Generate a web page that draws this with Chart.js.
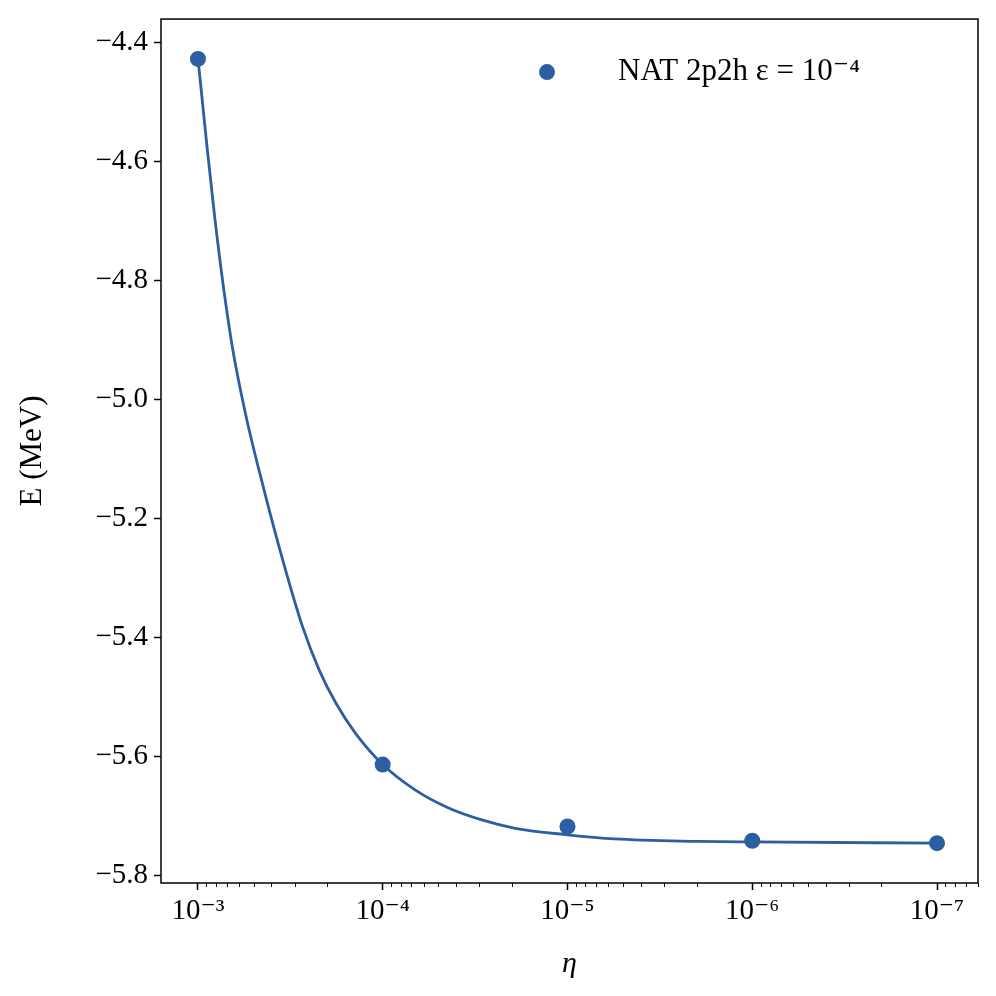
<!DOCTYPE html>
<html>
<head>
<meta charset="utf-8">
<script src="https://cdn.jsdelivr.net/npm/chart.js"></script>
<style>
  body { margin: 0; background: #fff; }
  #wrap { width: 996px; height: 996px; }
</style>
</head>
<body>
<div id="wrap"><canvas id="energyChart" width="996" height="996"></canvas></div>
<script>
// measured points
const etaPoints = [1e-3, 1e-4, 1e-5, 1e-6, 1e-7];
const energyPoints = [-4.427, -5.613, -5.717, -5.741, -5.745];

// fit curve
const etaCurve = [1.0e-3, 9.67e-4, 8.91e-4, 8.10e-4, 7.31e-4, 6.46e-4, 5.47e-4, 4.45e-4, 3.47e-4,
  2.71e-4, 2.20e-4, 1.79e-4, 1.40e-4, 1.0e-4, 6.65e-5, 4.40e-5, 2.91e-5, 1.92e-5, 1.0e-5,
  5.57e-6, 1.98e-6, 1.0e-6, 1.0e-7];
const energyCurve = [-4.427, -4.470, -4.578, -4.695, -4.806, -4.918, -5.030, -5.144, -5.270,
  -5.382, -5.455, -5.510, -5.561, -5.613, -5.656, -5.686, -5.706, -5.720, -5.731,
  -5.738, -5.742, -5.743, -5.745];

const xTicks = [1e-3, 1e-4, 1e-5, 1e-6, 1e-7];
const xTickLabels = ['10\u207B\u00B3', '10\u207B\u2074', '10\u207B\u2075', '10\u207B\u2076', '10\u207B\u2077'];
const yTicks = [-5.8, -5.6, -5.4, -5.2, -5.0, -4.8, -4.6, -4.4];
const legendLabel = 'NAT 2p2h \u03B5 = 10\u207B\u2074';

const blue = '#2c5ea3';
const serif = "'Liberation Serif', 'DejaVu Serif', serif";

// box round the plot, minor ticks on the log axis, legend inside the plot
const framePlugin = {
  id: 'frame',
  afterDraw(chart) {
    const ctx = chart.ctx;
    const a = chart.chartArea;
    const xs = chart.scales.x;
    ctx.save();
    ctx.strokeStyle = '#000';
    ctx.lineWidth = 1;
    for (let d = -8; d <= -3; d++) {
      for (let m = 2; m <= 9; m++) {
        const v = m * Math.pow(10, d);
        if (v < xs.min || v > xs.max) continue;
        const px = Math.round(xs.getPixelForValue(v)) + 0.5;
        ctx.beginPath();
        ctx.moveTo(px, a.bottom);
        ctx.lineTo(px, a.bottom + 4);
        ctx.stroke();
      }
    }
    ctx.lineWidth = 1.5;
    ctx.strokeRect(a.left, a.top, a.right - a.left, a.bottom - a.top);

    // legend
    const ly = a.top + 53;
    ctx.fillStyle = blue;
    ctx.beginPath();
    ctx.arc(a.left + 386, ly, 8, 0, Math.PI * 2);
    ctx.fill();
    ctx.fillStyle = '#000';
    ctx.font = '31px ' + serif;
    ctx.textBaseline = 'middle';
    ctx.textAlign = 'left';
    ctx.fillText(legendLabel, a.left + 457, ly);
    ctx.restore();
  }
};

new Chart(document.getElementById('energyChart'), {
  type: 'line',
  data: {
    datasets: [
      {
        label: legendLabel,
        data: etaPoints.map((x, i) => ({ x: x, y: energyPoints[i] })),
        showLine: false,
        pointRadius: 8,
        pointHoverRadius: 8,
        pointBackgroundColor: blue,
        pointBorderColor: blue,
        pointBorderWidth: 0,
        backgroundColor: blue,
        borderColor: blue
      },
      {
        label: 'fit',
        data: etaCurve.map((x, i) => ({ x: x, y: energyCurve[i] })),
        borderColor: blue,
        borderWidth: 2.8,
        pointRadius: 0,
        fill: false,
        cubicInterpolationMode: 'monotone'
      }
    ]
  },
  options: {
    responsive: false,
    animation: false,
    layout: { padding: { left: 0, top: 17, right: 18, bottom: 0 } },
    plugins: {
      tooltip: { enabled: false },
      legend: { display: false }
    },
    scales: {
      x: {
        type: 'logarithmic',
        reverse: true,
        min: 6.46e-8,
        max: 1.585e-3,
        afterBuildTicks: s => { s.ticks = xTicks.map(v => ({ value: v, major: true })); },
        afterFit: s => { s.height = 113; },
        grid: { drawOnChartArea: false, drawTicks: true, tickLength: 7, tickWidth: 1.5, tickColor: '#000' },
        border: { display: false },
        ticks: {
          color: '#000',
          padding: 4,
          maxRotation: 0,
          autoSkip: false,
          font: { family: serif, size: 29 },
          callback: (v, i) => xTickLabels[i]
        },
        title: {
          display: true,
          text: '\u03B7',
          color: '#000',
          padding: { top: 0, bottom: 14 },
          font: { family: serif, size: 30, style: 'italic' }
        }
      },
      y: {
        type: 'linear',
        min: -5.812,
        max: -4.36,
        afterBuildTicks: s => { s.ticks = yTicks.map(v => ({ value: v })); },
        afterFit: s => { s.width = 161; },
        grid: { drawOnChartArea: false, drawTicks: true, tickLength: 7, tickWidth: 1.5, tickColor: '#000' },
        border: { display: false },
        ticks: {
          color: '#000',
          padding: 6,
          font: { family: serif, size: 29, lineHeight: 0.9 },
          callback: v => '\u2212' + Math.abs(v).toFixed(1)
        },
        title: {
          display: true,
          text: 'E (MeV)',
          color: '#000',
          padding: { top: 14, bottom: 0 },
          font: { family: serif, size: 31 }
        }
      }
    }
  },
  plugins: [framePlugin]
});
</script>
</body>
</html>
